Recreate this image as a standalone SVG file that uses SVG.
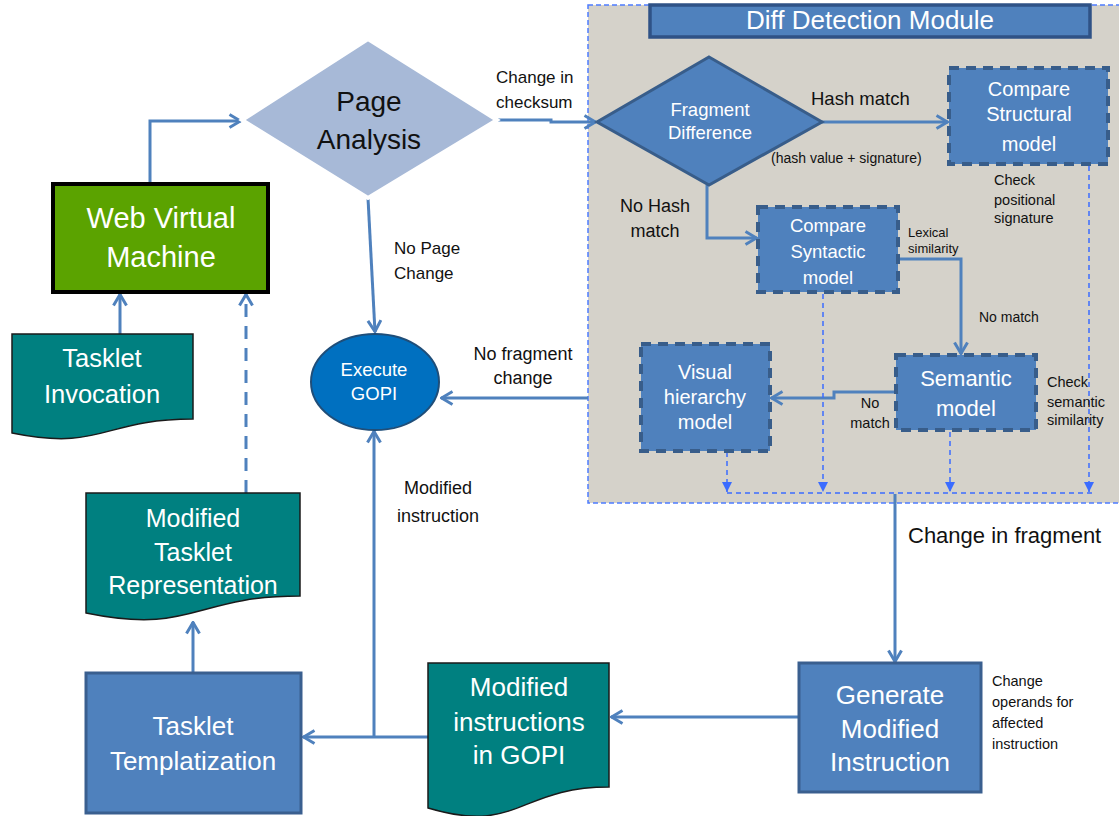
<svg xmlns="http://www.w3.org/2000/svg" width="1119" height="816" viewBox="0 0 1119 816">
  <defs>
    <style>
      text { font-family: "Liberation Sans", Arial, sans-serif; }
      .wt { fill: #ffffff; text-anchor: middle; }
      .bk { fill: #111111; }
      .bkc { fill: #111111; text-anchor: middle; }
      .box { fill: #4f81bd; stroke: #3a5f8f; stroke-width: 3; }
      .dbox { fill: #4f81bd; stroke: #385d8a; stroke-width: 4; stroke-dasharray: 10 7; }
      .doc { fill: #008080; stroke: #1a1a1a; stroke-width: 1.5; }
      .conn { fill: none; stroke: #4f81bd; stroke-width: 3; }
      .dot { fill: none; stroke: #3b6cff; stroke-width: 1.5; stroke-dasharray: 5 4; }
    </style>
    <marker id="chev" viewBox="0 0 14 16" refX="13" refY="8" markerWidth="14" markerHeight="16" orient="auto" markerUnits="userSpaceOnUse">
      <path d="M1.5,1.5 L12.5,8 L1.5,14.5" fill="none" stroke="#4f81bd" stroke-width="3"/>
    </marker>
    <marker id="tri" viewBox="0 0 10 10" refX="10" refY="5" markerWidth="10" markerHeight="10" orient="auto" markerUnits="userSpaceOnUse">
      <path d="M0,0 L10,5 L0,10 Z" fill="#3b6cff"/>
    </marker>
  </defs>

  <rect width="1119" height="816" fill="#ffffff"/>

  <!-- Diff detection module container -->
  <g id="diff-module">
    <rect x="588" y="5" width="540" height="498" fill="#d5d2ca" stroke="#4d7cff" stroke-width="1.5" stroke-dasharray="5 3"/>
    <rect x="650" y="5" width="440" height="32" fill="#4f81bd" stroke="#2f5286" stroke-width="3.5"/>
    <text x="870" y="29" class="wt" font-size="26">Diff Detection Module</text>
  </g>

  <!-- connectors -->
  <g id="connectors">
    <path class="conn" d="M150,183 V121 H241" marker-end="url(#chev)"/>
    <path class="conn" d="M498,120 H551 V122 H596" marker-end="url(#chev)"/>
    <path class="conn" d="M822,122 H948" marker-end="url(#chev)"/>
    <path class="conn" d="M707,185 V238 H757" marker-end="url(#chev)"/>
    <path class="conn" d="M898,259 H961 V354" marker-end="url(#chev)"/>
    <path class="conn" d="M896,392 H834 V398 H771" marker-end="url(#chev)"/>
    <path class="conn" d="M368,198 L375,332" marker-end="url(#chev)"/>
    <path class="conn" d="M588,398 H441" marker-end="url(#chev)"/>
    <path class="conn" d="M895,494 V662" marker-end="url(#chev)"/>
    <path class="conn" d="M799,717 H611" marker-end="url(#chev)"/>
    <path class="conn" d="M428,737 H303" marker-end="url(#chev)"/>
    <path class="conn" d="M374,737 V431" marker-end="url(#chev)"/>
    <path class="conn" d="M193,673 V622" marker-end="url(#chev)"/>
    <path class="conn" d="M246,493 V294" stroke-dasharray="13 9" marker-end="url(#chev)"/>
    <path class="conn" d="M120,334 V294" marker-end="url(#chev)"/>
    <!-- dotted result lines inside the module -->
    <path class="dot" d="M727,452 V492" marker-end="url(#tri)"/>
    <path class="dot" d="M823,294 V492" marker-end="url(#tri)"/>
    <path class="dot" d="M950,432 V492" marker-end="url(#tri)"/>
    <path class="dot" d="M1089,166 V492" marker-end="url(#tri)"/>
    <path class="dot" d="M727,493 H1094"/>
  </g>

  <!-- connector labels -->
  <g id="labels">
    <text x="496" y="83" class="bk" font-size="17">Change in</text>
    <text x="496" y="108" class="bk" font-size="17">checksum</text>
    <text x="811" y="105" class="bk" font-size="18.5">Hash match</text>
    <text x="771" y="163" class="bk" font-size="14">(hash value + signature)</text>
    <text x="994" y="185" class="bk" font-size="14.5">Check</text>
    <text x="994" y="205" class="bk" font-size="14.5">positional</text>
    <text x="994" y="223" class="bk" font-size="14.5">signature</text>
    <text x="655" y="212" class="bkc" font-size="18">No Hash</text>
    <text x="655" y="237" class="bkc" font-size="18">match</text>
    <text x="908" y="237" class="bk" font-size="13">Lexical</text>
    <text x="908" y="253" class="bk" font-size="13">similarity</text>
    <text x="979" y="322" class="bk" font-size="14">No match</text>
    <text x="1047" y="387" class="bk" font-size="14.5">Check</text>
    <text x="1047" y="407" class="bk" font-size="14.5">semantic</text>
    <text x="1047" y="425" class="bk" font-size="14.5">similarity</text>
    <text x="870" y="408" class="bkc" font-size="14.5">No</text>
    <text x="870" y="428" class="bkc" font-size="14.5">match</text>
    <text x="394" y="254" class="bk" font-size="17">No Page</text>
    <text x="394" y="279" class="bk" font-size="17">Change</text>
    <text x="523" y="360" class="bkc" font-size="18">No fragment</text>
    <text x="523" y="384" class="bkc" font-size="18">change</text>
    <text x="438" y="494" class="bkc" font-size="18">Modified</text>
    <text x="438" y="522" class="bkc" font-size="18">instruction</text>
    <text x="908" y="543" class="bk" font-size="22">Change in fragment</text>
    <text x="992" y="686" class="bk" font-size="14.5">Change</text>
    <text x="992" y="707" class="bk" font-size="14.5">operands for</text>
    <text x="992" y="728" class="bk" font-size="14.5">affected</text>
    <text x="992" y="749" class="bk" font-size="14.5">instruction</text>
  </g>

  <g id="page-analysis">
    <polygon points="368,39 497,120 368,198 242,120" fill="#a7b9d7" stroke="#ffffff" stroke-width="4"/>
    <text x="369" y="111" class="bkc" font-size="28">Page</text>
    <text x="369" y="149" class="bkc" font-size="28">Analysis</text>
  </g>

  <g id="web-virtual-machine">
    <rect x="53" y="184" width="215" height="108" fill="#5ba300" stroke="#000000" stroke-width="4"/>
    <text x="161" y="228" class="wt" font-size="29">Web Virtual</text>
    <text x="161" y="267" class="wt" font-size="29">Machine</text>
  </g>

  <g id="tasklet-invocation">
    <path class="doc" d="M12,334 H193 V419 C102.5,419 102.5,451.4 12,433 Z"/>
    <text x="102" y="367" class="wt" font-size="25.5">Tasklet</text>
    <text x="102" y="403" class="wt" font-size="25.5">Invocation</text>
  </g>

  <g id="execute-gopi">
    <ellipse cx="375" cy="382" rx="64" ry="48" fill="#0070c0" stroke="#1f4e79" stroke-width="2"/>
    <text x="374" y="376" class="wt" font-size="18.5">Execute</text>
    <text x="374" y="400" class="wt" font-size="18.5">GOPI</text>
  </g>

  <g id="fragment-difference">
    <polygon points="709,57 822,122 709,185 597,122" fill="#4f81bd" stroke="#385d8a" stroke-width="3"/>
    <text x="710" y="116" class="wt" font-size="18.5">Fragment</text>
    <text x="710" y="139" class="wt" font-size="18.5">Difference</text>
  </g>

  <g id="compare-structural">
    <rect class="dbox" x="949" y="68" width="159" height="96"/>
    <text x="1029" y="96" class="wt" font-size="20">Compare</text>
    <text x="1029" y="121" class="wt" font-size="20">Structural</text>
    <text x="1029" y="151" class="wt" font-size="20">model</text>
  </g>

  <g id="compare-syntactic">
    <rect class="dbox" x="758" y="207" width="140" height="85"/>
    <text x="828" y="232" class="wt" font-size="18.5">Compare</text>
    <text x="828" y="258" class="wt" font-size="18.5">Syntactic</text>
    <text x="828" y="284" class="wt" font-size="18.5">model</text>
  </g>

  <g id="semantic-model">
    <rect class="dbox" x="896" y="355" width="140" height="75"/>
    <text x="966" y="386" class="wt" font-size="22">Semantic</text>
    <text x="966" y="416" class="wt" font-size="22">model</text>
  </g>

  <g id="visual-hierarchy">
    <rect class="dbox" x="641" y="344" width="129" height="107"/>
    <text x="705" y="379" class="wt" font-size="20">Visual</text>
    <text x="705" y="404" class="wt" font-size="20">hierarchy</text>
    <text x="705" y="429" class="wt" font-size="20">model</text>
  </g>

  <g id="generate-modified-instruction">
    <rect class="box" x="799" y="663" width="182" height="129"/>
    <text x="890" y="704" class="wt" font-size="26">Generate</text>
    <text x="890" y="738" class="wt" font-size="26">Modified</text>
    <text x="890" y="771" class="wt" font-size="26">Instruction</text>
  </g>

  <g id="modified-instructions-gopi">
    <path class="doc" d="M428,663 H609 V787 C518.5,787 518.5,835 428,808 Z"/>
    <text x="519" y="696" class="wt" font-size="26">Modified</text>
    <text x="519" y="731" class="wt" font-size="26">instructions</text>
    <text x="519" y="764" class="wt" font-size="26">in GOPI</text>
  </g>

  <g id="tasklet-templatization">
    <rect class="box" x="86" y="673" width="215" height="140"/>
    <text x="193" y="735" class="wt" font-size="26">Tasklet</text>
    <text x="193" y="770" class="wt" font-size="26">Templatization</text>
  </g>

  <g id="modified-tasklet-representation">
    <path class="doc" d="M86,493 H300 V596 C193,596 193,635 86,613 Z"/>
    <text x="193" y="527" class="wt" font-size="25">Modified</text>
    <text x="193" y="561" class="wt" font-size="25">Tasklet</text>
    <text x="193" y="594" class="wt" font-size="25">Representation</text>
  </g>
</svg>
